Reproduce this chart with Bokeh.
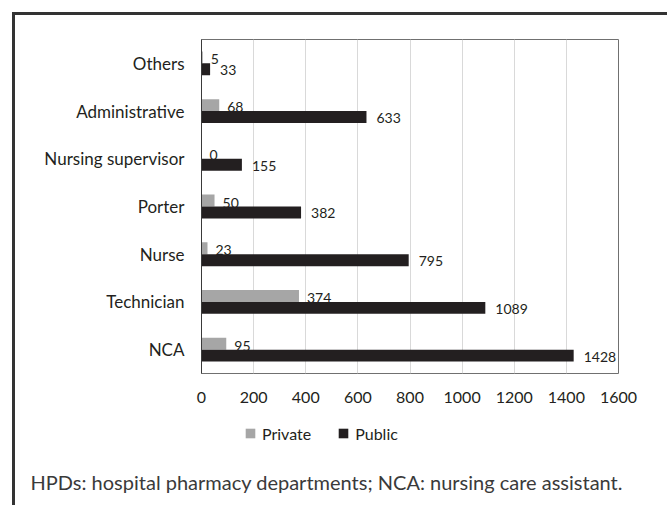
from bokeh.plotting import figure
from bokeh.models import (ColumnDataSource, FactorRange, Range1d, Legend, LegendItem,
                          Title, FixedTicker)
from bokeh.layouts import column
from bokeh.transform import dodge
from bokeh.embed import file_html
from bokeh.resources import INLINE
from bokeh.core.properties import value

categories = ["NCA", "Technician", "Nurse", "Porter", "Nursing supervisor", "Administrative", "Others"]
private = [95, 374, 23, 50, 0, 68, 5]
public = [1428, 1089, 795, 382, 155, 633, 33]
x_ticks = [0, 200, 400, 600, 800, 1000, 1200, 1400, 1600]
series_names = ["Private", "Public"]
footnote = "HPDs: hospital pharmacy departments; NCA: nursing care assistant."

PRIV_COLOR = "#a6a6a6"
PUB_COLOR = "#231f20"
FONT = "Lato"

src = ColumnDataSource(dict(
    cat=categories, private=private, public=public,
    private_lbl=[str(v) for v in private], public_lbl=[str(v) for v in public],
))

# ---- main chart ----
p = figure(width=667, height=410, y_range=FactorRange(factors=categories),
           x_range=Range1d(0, 1600), output_backend="svg", toolbar_location=None,
           min_border_left=201, min_border_right=49, min_border_top=39, min_border_bottom=37)
p.border_fill_color = None

r_priv = p.hbar(y=dodge("cat", 0.125, range=p.y_range), right="private", left=0, height=0.25,
                source=src, fill_color=PRIV_COLOR, line_color=None)
r_pub = p.hbar(y=dodge("cat", -0.125, range=p.y_range), right="public", left=0, height=0.25,
               source=src, fill_color=PUB_COLOR, line_color=None)

p.text(x="private", y=dodge("cat", 0.125, range=p.y_range), text="private_lbl", source=src,
       x_offset=8, y_offset=2, text_baseline="middle", text_align="left",
       text_font=value(FONT), text_font_size="14px", text_color="#231f20")
p.text(x="public", y=dodge("cat", -0.125, range=p.y_range), text="public_lbl", source=src,
       x_offset=10, y_offset=1, text_baseline="middle", text_align="left",
       text_font=value(FONT), text_font_size="14px", text_color="#231f20")

p.xaxis.ticker = FixedTicker(ticks=x_ticks)
p.xaxis.major_tick_line_color = None
p.xaxis.minor_tick_line_color = None
p.xaxis.axis_line_color = None
p.xaxis.major_label_standoff = 12
p.xaxis.major_label_text_font = FONT
p.xaxis.major_label_text_font_size = "16px"
p.xaxis.major_label_text_color = "#231f20"

p.yaxis.major_tick_line_color = None
p.yaxis.minor_tick_line_color = None
p.yaxis.axis_line_color = "#3a3a3a"
p.yaxis.major_label_standoff = 11
p.yaxis.major_label_text_font = FONT
p.yaxis.major_label_text_font_size = "17px"
p.yaxis.major_label_text_color = "#231f20"

p.xgrid.grid_line_color = "#d9d9d9"
p.ygrid.grid_line_color = None
p.outline_line_color = "#707070"
p.outline_line_width = 1

# ---- legend + footnote strip (its frame is aligned with the chart frame) ----
q = figure(width=667, height=95, x_range=Range1d(2000, 3000), y_range=FactorRange(factors=categories),
           output_backend="svg", toolbar_location=None, x_axis_type=None, y_axis_type=None,
           min_border_left=0, min_border_right=0, min_border_top=0, min_border_bottom=38)
q.border_fill_color = None
q.background_fill_color = None
q.outline_line_color = None
q.xgrid.visible = False
q.ygrid.visible = False

# same series, hidden here: only their legend swatches show
l_priv = q.hbar(y="cat", right="private", left=0, height=0.25, source=src,
                fill_color=PRIV_COLOR, line_color=None, visible=False)
l_pub = q.hbar(y="cat", right="public", left=0, height=0.25, source=src,
               fill_color=PUB_COLOR, line_color=None, visible=False)

legend = Legend(items=[LegendItem(label=series_names[0], renderers=[l_priv]),
                       LegendItem(label=series_names[1], renderers=[l_pub])],
                orientation="horizontal", location=(43, 24),
                glyph_width=12, glyph_height=12, label_height=20, label_standoff=6, spacing=26,
                padding=0, margin=0, border_line_color=None, background_fill_alpha=0,
                inactive_fill_alpha=0,
                label_text_font=FONT, label_text_font_size="16px", label_text_color="#231f20")
q.add_layout(legend, "center")

q.add_layout(Title(text=footnote, align="left", offset=-171, standoff=0,
                   text_font=FONT, text_font_size="20px", text_font_style="normal",
                   text_color="#3a3a3a"), "below")

layout = column(p, q, spacing=0,
                styles={"box-shadow": "inset 12px 12px 0 0 #ffffff, inset 15px 15px 0 0 #333333"})

open("out.html", "w").write(file_html(layout, INLINE))
